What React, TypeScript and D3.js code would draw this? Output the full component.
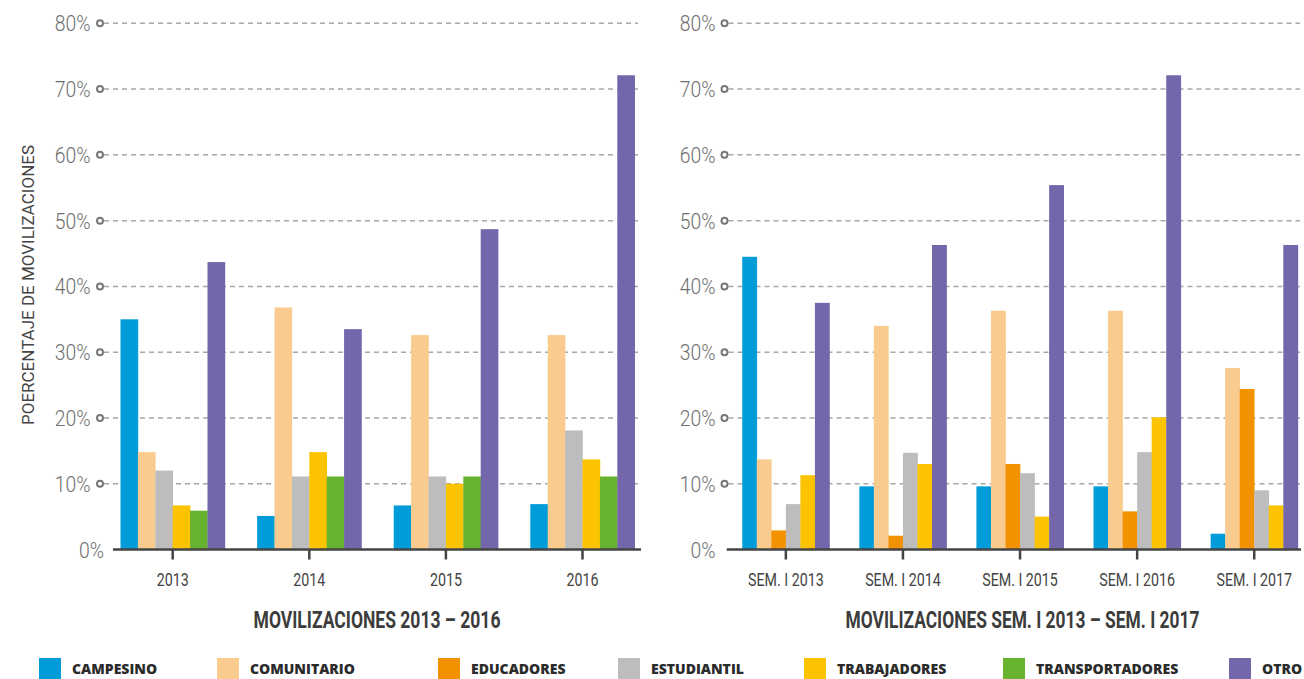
import React, { useRef, useEffect } from "react";
import * as d3 from "d3";

// series shared by both charts (legend order)
const seriesNames = ["CAMPESINO", "COMUNITARIO", "EDUCADORES", "ESTUDIANTIL", "TRABAJADORES", "TRANSPORTADORES", "OTRO"];
const seriesColors = ["#009cd9", "#f9cb8f", "#f39200", "#bdbdbd", "#fbc300", "#67b22f", "#7366ab"];

const yTicks = [0, 10, 20, 30, 40, 50, 60, 70, 80];

// left chart: 2013 - 2016
const yearsLeft = ["2013", "2014", "2015", "2016"];
const seriesLeft = ["CAMPESINO", "COMUNITARIO", "ESTUDIANTIL", "TRABAJADORES", "TRANSPORTADORES", "OTRO"];
const campesinoLeft = [35.0, 5.1, 6.7, 6.9];
const comunitarioLeft = [14.8, 36.8, 32.6, 32.6];
const estudiantilLeft = [12.0, 11.1, 11.1, 18.1];
const trabajadoresLeft = [6.7, 14.8, 10.0, 13.7];
const transportadoresLeft = [5.9, 11.1, 11.1, 11.1];
const otroLeft = [43.7, 33.5, 48.7, 72.1];

// right chart: Sem. I 2013 - Sem. I 2017
const yearsRight = ["SEM. I 2013", "SEM. I 2014", "SEM. I 2015", "SEM. I 2016", "SEM. I 2017"];
const seriesRight = ["CAMPESINO", "COMUNITARIO", "EDUCADORES", "ESTUDIANTIL", "TRABAJADORES", "OTRO"];
const campesinoRight = [44.5, 9.6, 9.6, 9.6, 2.4];
const comunitarioRight = [13.7, 34.0, 36.3, 36.3, 27.6];
const educadoresRight = [2.9, 2.1, 13.0, 5.8, 24.4];
const estudiantilRight = [6.9, 14.7, 11.6, 14.8, 9.0];
const trabajadoresRight = [11.3, 13.0, 5.0, 20.1, 6.7];
const otroRight = [37.5, 46.3, 55.4, 72.1, 46.3];

const valuesLeft = [campesinoLeft, comunitarioLeft, estudiantilLeft, trabajadoresLeft, transportadoresLeft, otroLeft];
const valuesRight = [campesinoRight, comunitarioRight, educadoresRight, estudiantilRight, trabajadoresRight, otroRight];

const legendX = [39, 217, 438, 618, 804, 1003, 1229];

const condensed = "Roboto, 'Noto Sans', sans-serif";

// text squeezed horizontally, to imitate the condensed face of the original
function squeezed(parent: any, x: number, y: number, txt: string, size: number, anchor: string, sx: number) {
  return parent.append("text")
    .attr("transform", `translate(${x},${y}) scale(${sx},1)`)
    .attr("text-anchor", anchor)
    .attr("font-family", condensed)
    .attr("font-size", size)
    .text(txt);
}

// scale a text so that its width becomes `w`
function fitWidth(sel: any, x: number, y: number, w: number, extra = "") {
  const natural = (sel.node() as SVGTextElement).getComputedTextLength() || w;
  sel.attr("transform", `translate(${x},${y}) ${extra} scale(${w / natural},1)`);
}

function App() {
  const svgRef = useRef<SVGSVGElement | null>(null);

  useEffect(() => {
    const width = 1304;
    const height = 679;
    const svg = d3.select(svgRef.current).attr("width", width).attr("height", height);
    svg.selectAll("*").remove();

    const color = d3.scaleOrdinal<string, string>().domain(seriesNames).range(seriesColors);
    const y = d3.scaleLinear().domain([0, 80]).range([549.5, 23.3]);

    const charts = [
      {
        cats: yearsLeft, series: seriesLeft, values: valuesLeft,
        range: [104.4, 650.8], pad: 0.236, axis: [113, 641], grid: [100, 638],
        labelEnd: 90.5, zeroEnd: 104,
        title: "MOVILIZACIONES 2013 – 2016", titleX: 377, titleW: 247,
      },
      {
        cats: yearsRight, series: seriesRight, values: valuesRight,
        range: [727.3, 1312.8], pad: 0.255, axis: [726.7, 1301], grid: [724.5, 1300],
        labelEnd: 715.5, zeroEnd: 715.5,
        title: "MOVILIZACIONES SEM. I 2013 – SEM. I 2017", titleX: 1022.5, titleW: 354,
      },
    ];

    charts.forEach((c) => {
      const g = svg.append("g");
      const x0 = d3.scaleBand().domain(c.cats).range(c.range as [number, number])
        .paddingInner(c.pad).paddingOuter(c.pad / 2);
      const x1 = d3.scaleBand().domain(c.series).range([0, x0.bandwidth()]);

      // gridlines with circle markers
      yTicks.filter((t) => t > 0).forEach((t) => {
        g.append("line")
          .attr("x1", c.grid[0] + 4).attr("x2", c.grid[1])
          .attr("y1", y(t)).attr("y2", y(t))
          .attr("stroke", "#a8a8a8").attr("stroke-width", 1.5)
          .attr("stroke-dasharray", "5,4");
        g.append("circle")
          .attr("cx", c.grid[0]).attr("cy", y(t)).attr("r", 3)
          .attr("fill", "#fff").attr("stroke", "#777").attr("stroke-width", 2);
      });

      // y labels
      yTicks.forEach((t) => {
        squeezed(g, t === 0 ? c.zeroEnd : c.labelEnd, y(t) + 8, `${t}%`, 22.5, "end", 0.86)
          .attr("fill", "#6e6e6e")
          .attr("font-weight", 300);
      });

      // bars
      c.cats.forEach((cat, i) => {
        c.series.forEach((s, j) => {
          const v = c.values[j][i];
          g.append("rect")
            .attr("x", (x0(cat) as number) + (x1(s) as number))
            .attr("y", y(v))
            .attr("width", x1.bandwidth() + 0.3)
            .attr("height", y(0) - y(v))
            .attr("fill", color(s));
        });
      });

      // baseline and ticks
      g.append("line")
        .attr("x1", c.axis[0]).attr("x2", c.axis[1])
        .attr("y1", y(0)).attr("y2", y(0))
        .attr("stroke", "#444").attr("stroke-width", 2.5);
      c.cats.forEach((cat) => {
        const cx = (x0(cat) as number) + x0.bandwidth() / 2;
        g.append("line")
          .attr("x1", cx).attr("x2", cx)
          .attr("y1", y(0)).attr("y2", y(0) + 10)
          .attr("stroke", "#444").attr("stroke-width", 2.5);
        squeezed(g, cx, 586, cat, 17.8, "middle", 0.8)
          .attr("fill", "#444");
      });

      // axis title
      const title = g.append("text")
        .attr("text-anchor", "middle")
        .attr("font-family", condensed)
        .attr("font-weight", "bold")
        .attr("font-size", 23)
        .attr("fill", "#3c3c3c")
        .text(c.title);
      fitWidth(title, c.titleX, 628, c.titleW);
    });

    // y axis title
    const yTitle = svg.append("text")
      .attr("text-anchor", "middle")
      .attr("font-family", condensed)
      .attr("font-size", 16)
      .attr("fill", "#444")
      .text("POERCENTAJE DE MOVILIZACIONES");
    fitWidth(yTitle, 33.5, 285, 280, "rotate(-90)");

    // legend
    const legend = svg.append("g");
    seriesNames.forEach((s, i) => {
      legend.append("rect")
        .attr("x", legendX[i]).attr("y", 658)
        .attr("width", 22).attr("height", 22)
        .attr("fill", color(s));
      legend.append("text")
        .attr("x", legendX[i] + 33).attr("y", 674.3)
        .attr("font-family", "'Open Sans', Lato, sans-serif")
        .attr("font-weight", 800)
        .attr("font-size", 14)
        .attr("fill", "#2b2b2b")
        .text(s);
    });
  }, []);

  return (
    <svg ref={svgRef} style={{ position: "absolute", left: 0, top: 0, background: "#fff" }}></svg>
  );
}

export default App;
